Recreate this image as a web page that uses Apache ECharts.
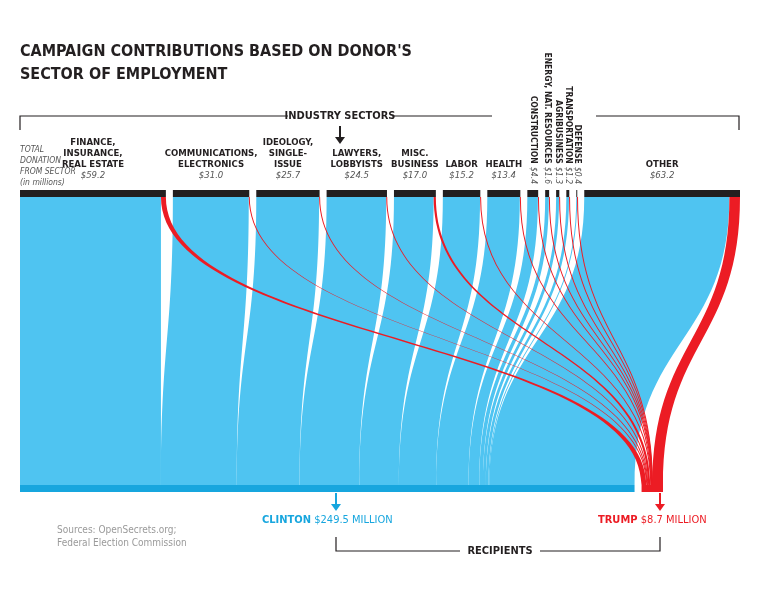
<!DOCTYPE html>
<html lang="en">
<head>
<meta charset="UTF-8">
<style>
html, body { height: 100%; margin: 0; background: #fff; }
</style>
</head>
<body>
<div id="chart" style="width:760px;height:608px;"></div>
<script src="https://cdn.jsdelivr.net/npm/echarts@6/dist/echarts.min.js"></script>
<script>
// sector data (millions of dollars)
var sectors = ['FINANCE,\nINSURANCE,\nREAL ESTATE', 'COMMUNICATIONS,\nELECTRONICS', 'IDEOLOGY,\nSINGLE-\nISSUE',
    'LAWYERS,\nLOBBYISTS', 'MISC.\nBUSINESS', 'LABOR', 'HEALTH', 'CONSTRUCTION', 'ENERGY, NAT. RESOURCES',
    'AGRIBUSINESS', 'TRANSPORTATION', 'DEFENSE', 'OTHER'];
var totals = [59.2, 31.0, 25.7, 24.5, 17.0, 15.2, 13.4, 4.4, 1.6, 1.3, 1.2, 0.4, 63.2];
var trumpPart = [2.0, 0.2, 0.2, 0.3, 0.9, 0.1, 0.2, 0.1, 0.1, 0.1, 0.1, 0.1, 4.3];
var rotated = [false, false, false, false, false, false, false, true, true, true, true, true, false];
var recipients = ['CLINTON', 'TRUMP'];
var recipientTotals = ['$249.5 MILLION', '$8.7 MILLION'];

var BLUE = '#4fc4f1', DARKBLUE = '#17a6de', RED = '#ec1c24';
var font = '"DejaVu Sans Condensed", "DejaVu Sans", sans-serif';

var nodes = [], blueLinks = [], redLinks = [];
sectors.forEach(function (s, i) {
    var rot = rotated[i];
    nodes.push({
        name: s,
        itemStyle: { color: '#231f20' },
        label: rot ? {
            position: 'top', rotate: -90, align: 'right', verticalAlign: 'middle', distance: 6,
            formatter: function () { return '{ns|' + s + '} {vs|$' + totals[i].toFixed(1) + '}'; }
        } : {
            position: 'top', distance: 8, align: 'center',
            formatter: function () { return '{n|' + s + '}\n{v|$' + totals[i].toFixed(1) + '}'; }
        }
    });
    blueLinks.push({ source: s, target: 'CLINTON', value: +(totals[i] - trumpPart[i]).toFixed(2),
        lineStyle: { color: BLUE, opacity: 1 } });
    redLinks.push({ source: s, target: 'TRUMP', value: trumpPart[i],
        lineStyle: { color: RED, opacity: 1 } });
});
recipients.forEach(function (r, i) {
    nodes.push({
        name: r,
        itemStyle: { color: i === 0 ? DARKBLUE : RED },
        label: {
            position: 'bottom', distance: 22,
            formatter: function () { return '{' + (i ? 'tr' : 'cl') + '|' + r + '} {' + (i ? 'trv' : 'clv') + '|' + recipientTotals[i] + '}'; }
        }
    });
});

var rich = {
    n: { fontFamily: font, fontWeight: 'bold', fontSize: 9.5, color: '#231f20', lineHeight: 11, align: 'center' },
    v: { fontFamily: font, fontStyle: 'italic', fontSize: 9.5, color: '#555', lineHeight: 12, align: 'center' },
    ns: { fontFamily: font, fontWeight: 'bold', fontSize: 8.5, color: '#231f20' },
    vs: { fontFamily: font, fontStyle: 'italic', fontSize: 8.5, color: '#555' },
    cl: { fontFamily: font, fontWeight: 'bold', fontSize: 11, color: DARKBLUE },
    clv: { fontFamily: font, fontSize: 11, color: DARKBLUE },
    tr: { fontFamily: font, fontWeight: 'bold', fontSize: 11, color: RED },
    trv: { fontFamily: font, fontSize: 11, color: RED }
};

var myChart = echarts.init(document.getElementById('chart'));
myChart.setOption({
    backgroundColor: '#fff',
    animation: false,
    series: [{
        type: 'sankey',
        orient: 'vertical',
        left: 20, right: 20, top: 190, bottom: 116,
        nodeWidth: 7,
        nodeGap: 7,
        layoutIterations: 0,
        draggable: false,
        emphasis: { disabled: true },
        label: { show: true, rich: rich },
        lineStyle: { curveness: 0.5 },
        data: nodes,
        links: blueLinks.concat(redLinks)
    }],
    graphic: [
        { type: 'text', left: 20, top: 40, style: { text: "CAMPAIGN CONTRIBUTIONS BASED ON DONOR'S\nSECTOR OF EMPLOYMENT",
            font: 'bold 16px ' + font, fill: '#231f20', lineHeight: 23 } },
        { type: 'text', left: 20, top: 144, style: { text: 'TOTAL\nDONATION\nFROM SECTOR\n(in millions)',
            font: 'italic 8.5px ' + font, fill: '#555', lineHeight: 11 } },
        { type: 'polyline', shape: { points: [[20, 130], [20, 116], [288, 116]] }, style: { stroke: '#231f20', lineWidth: 1.2, fill: null } },
        { type: 'polyline', shape: { points: [[392, 116], [492, 116]] }, style: { stroke: '#231f20', lineWidth: 1.2, fill: null } },
        { type: 'polyline', shape: { points: [[596, 116], [739, 116], [739, 130]] }, style: { stroke: '#231f20', lineWidth: 1.2, fill: null } },
        { type: 'text', x: 340, y: 116, style: { text: 'INDUSTRY SECTORS', font: 'bold 11px ' + font, fill: '#231f20',
            align: 'center', verticalAlign: 'middle' } },
        { type: 'line', shape: { x1: 340, y1: 126, x2: 340, y2: 142 }, style: { stroke: '#231f20', lineWidth: 2 } },
        { type: 'polygon', shape: { points: [[335, 137], [345, 137], [340, 144]] }, style: { fill: '#231f20' } },
        { type: 'line', shape: { x1: 336, y1: 493, x2: 336, y2: 508 }, style: { stroke: DARKBLUE, lineWidth: 2 } },
        { type: 'polygon', shape: { points: [[331, 504], [341, 504], [336, 511]] }, style: { fill: DARKBLUE } },
        { type: 'line', shape: { x1: 660, y1: 493, x2: 660, y2: 508 }, style: { stroke: RED, lineWidth: 2 } },
        { type: 'polygon', shape: { points: [[655, 504], [665, 504], [660, 511]] }, style: { fill: RED } },
        { type: 'polyline', shape: { points: [[336, 537], [336, 551], [460, 551]] }, style: { stroke: '#231f20', lineWidth: 1.2, fill: null } },
        { type: 'polyline', shape: { points: [[540, 551], [660, 551], [660, 537]] }, style: { stroke: '#231f20', lineWidth: 1.2, fill: null } },
        { type: 'text', x: 500, y: 551, style: { text: 'RECIPIENTS', font: 'bold 11px ' + font, fill: '#231f20',
            align: 'center', verticalAlign: 'middle' } },
        { type: 'text', left: 57, top: 524, style: { text: 'Sources: OpenSecrets.org;\nFederal Election Commission',
            font: '10px ' + font, fill: '#9a9a9a', lineHeight: 13 } }
    ]
});
</script>
</body>
</html>
